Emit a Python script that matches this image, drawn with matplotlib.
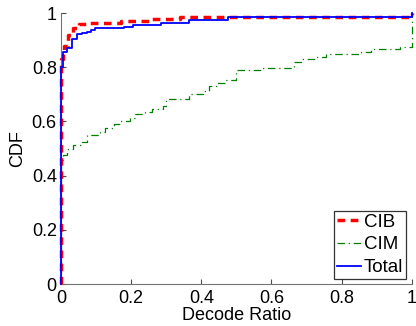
import matplotlib
matplotlib.use("Agg")
import matplotlib.pyplot as plt

# Empirical CDF step points (decode ratio, cumulative fraction)
cib_x = [0, 0, 0.005, 0.01, 0.02, 0.035, 0.05, 0.07, 0.17, 0.25, 0.34, 1.0]
cib_y = [0, 0.83, 0.86, 0.88, 0.92, 0.943, 0.958, 0.965, 0.972, 0.977, 0.986, 1.0]

cim_x = [0, 0, 0.005, 0.016, 0.035, 0.06, 0.073, 0.11, 0.125, 0.15, 0.167, 0.196,
         0.21, 0.24, 0.26, 0.29, 0.30, 0.366, 0.404, 0.423, 0.446, 0.47, 0.50,
         0.57, 0.665, 0.685, 0.727, 0.756, 0.855, 0.883, 0.968, 1.0]
cim_y = [0, 0.457, 0.476, 0.50, 0.513, 0.525, 0.55, 0.562, 0.574, 0.589, 0.603, 0.611,
         0.626, 0.636, 0.646, 0.657, 0.683, 0.703, 0.712, 0.732, 0.743, 0.753, 0.789,
         0.798, 0.819, 0.829, 0.838, 0.847, 0.856, 0.866, 0.876, 1.0]

total_x = [0, 0, 0.005, 0.016, 0.03, 0.045, 0.06, 0.073, 0.087, 0.097, 0.18, 0.205,
           0.284, 0.364, 0.475, 1.0]
total_y = [0, 0.80, 0.857, 0.87, 0.906, 0.924, 0.926, 0.93, 0.937, 0.943, 0.95, 0.955,
           0.962, 0.974, 0.984, 1.0]

x_ticks = [0, 0.2, 0.4, 0.6, 0.8, 1]
x_tick_labels = ["0", "0.2", "0.4", "0.6", "0.8", "1"]
y_ticks = [0, 0.2, 0.4, 0.6, 0.8, 1]
y_tick_labels = ["0", "0.2", "0.4", "0.6", "0.8", "1"]

plt.rcParams["font.family"] = ["Liberation Sans", "DejaVu Sans"]

fig = plt.figure(figsize=(4.16, 3.26), dpi=100)
ax = fig.add_axes([0.1466, 0.1288, 0.8430, 0.8312])

ax.plot(cib_x, cib_y, drawstyle="steps-post", color="#ff0000", lw=2.5,
        linestyle=(0, (2.2, 1.6)), label="CIB", clip_on=False, zorder=3)
ax.plot(cim_x, cim_y, drawstyle="steps-post", color="#008000", lw=0.9,
        linestyle=(0, (6, 3, 1, 3)), label="CIM", clip_on=False, zorder=2)
ax.plot(total_x, total_y, drawstyle="steps-post", color="#0000ff", lw=1.3,
        label="Total", clip_on=False, zorder=4)

ax.set_xlim(0, 1)
ax.set_ylim(0, 1)
ax.set_xticks(x_ticks)
ax.set_xticklabels(x_tick_labels)
ax.set_yticks(y_ticks)
ax.set_yticklabels(y_tick_labels)

for side in ("top", "right"):
    ax.spines[side].set_visible(False)
for side in ("left", "bottom"):
    ax.spines[side].set_color("0.45")
    ax.spines[side].set_linewidth(0.8)

ax.tick_params(direction="in", length=3.5, width=0.8, color="0.3",
               labelsize=13, pad=3)
ax.tick_params(axis="x", pad=4)

ax.set_xlabel("Decode Ratio", fontsize=13, labelpad=0)
ax.set_ylabel("CDF", fontsize=13, labelpad=4)

leg = ax.legend(loc="lower right", bbox_to_anchor=(0.995, 0.005), fontsize=13.5,
                frameon=True, fancybox=False, handlelength=1.3, handletextpad=0.15,
                borderpad=0.15, labelspacing=0.3, borderaxespad=0.2)
leg.get_frame().set_edgecolor("black")
leg.get_frame().set_linewidth(0.9)

fig.savefig("out.png", dpi=100)
